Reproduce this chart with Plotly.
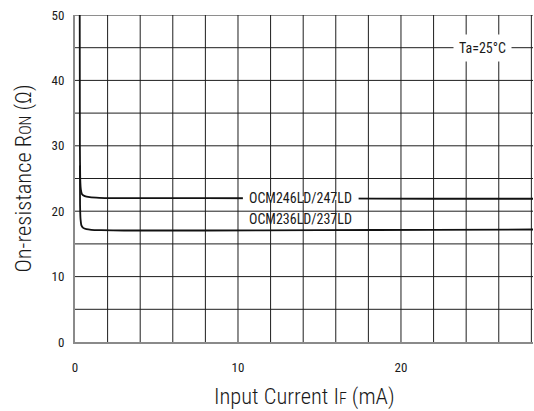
import plotly.graph_objects as go

# On-resistance vs. input current, Ta = 25 °C
if_246 = [0.29, 0.30, 0.32, 0.36, 0.43, 0.6, 0.9, 1.5, 3.0, 8.0, 15.0, 22.0, 28.1]
ron_246 = [50.0, 30.0, 25.0, 23.3, 22.6, 22.3, 22.15, 22.05, 22.0, 22.0, 21.95, 21.9, 21.9]

if_236 = [0.30, 0.31, 0.34, 0.40, 0.5, 0.7, 1.0, 1.6, 3.0, 8.0, 15.0, 22.0, 28.1]
ron_236 = [27.0, 21.0, 18.8, 17.8, 17.45, 17.25, 17.15, 17.1, 17.05, 17.05, 17.1, 17.15, 17.2]

series_labels = ["OCM246LD/247LD", "OCM236LD/237LD"]
x_ticks = [0, 10, 20]
y_ticks = [0, 10, 20, 30, 40, 50]

FONT = "Roboto Condensed, Liberation Sans Narrow, Arial Narrow, Liberation Sans, sans-serif"
LINE = "#111111"
GRID = "#1e1e1e"
AXIS = "#8a8a8a"
TXT = "#1a1a1a"

fig = go.Figure()
for xs, ys in [(if_246, ron_246), (if_236, ron_236)]:
    fig.add_trace(go.Scatter(x=xs, y=ys, mode="lines",
                             line=dict(color=LINE, width=1.8, shape="spline", smoothing=0.5),
                             showlegend=False, hoverinfo="skip"))

# gap in the upper curve where its label sits
fig.add_shape(type="rect", xref="x", yref="y", x0=10.3, x1=17.4, y0=21.7, y1=22.3,
              fillcolor="white", line=dict(width=0), layer="above")

label_font = dict(family=FONT, size=14, color=TXT, weight=400)
fig.add_annotation(x=13.85, y=ron_246[9], text=series_labels[0], showarrow=False,
                   font=label_font, yanchor="middle")
fig.add_annotation(x=13.85, y=ron_236[9], text=series_labels[1], showarrow=False,
                   font=label_font, yanchor="bottom", yshift=1)
fig.add_annotation(x=25.0, y=45, text="Ta=25°C", showarrow=False,
                   font=label_font, bgcolor="white", borderpad=5)

# axis titles
title_font = dict(family=FONT, size=22.5, color=TXT, weight=300)
fig.add_annotation(xref="paper", yref="paper", x=0.5, y=0, yshift=-54,
                   text="Input Current I<span style='font-size:16px'>F</span> (mA)",
                   showarrow=False, font=title_font, yanchor="middle")
fig.add_annotation(xref="paper", yref="paper", x=0, y=0.5, xshift=-52,
                   text="On-resistance R<span style='font-size:16px'>ON</span> (Ω)",
                   textangle=-90, showarrow=False, font=title_font, xanchor="center")

tick_font = dict(family=FONT, size=13, color=TXT, weight=400)
fig.update_xaxes(range=[0, 28.1], tickvals=x_ticks,
                 showgrid=False, zeroline=False,
                 showline=True, linecolor=AXIS, linewidth=2,
                 ticks="", ticklabelstandoff=12, tickfont=tick_font)
fig.update_yaxes(range=[0, 50], tickvals=y_ticks,
                 showgrid=False, zeroline=False,
                 showline=True, linecolor=AXIS, linewidth=2,
                 ticks="", ticklabelstandoff=6, tickfont=tick_font)

# grid: every 2 mA and every 5 Ω
for gx in range(2, 29, 2):
    fig.add_shape(type="line", xref="x", yref="y", x0=gx, x1=gx, y0=0, y1=50,
                  line=dict(color=GRID, width=1), layer="below")
for gy in range(5, 51, 5):
    fig.add_shape(type="line", xref="x", yref="y", x0=0, x1=28.1, y0=gy, y1=gy,
                  line=dict(color=GRID, width=1), layer="below")

fig.update_layout(width=534, height=411, margin=dict(l=75, r=1, t=15, b=69),
                  plot_bgcolor="white", paper_bgcolor="white",
                  font=dict(family=FONT, color=TXT))

fig.write_html("out.html")
